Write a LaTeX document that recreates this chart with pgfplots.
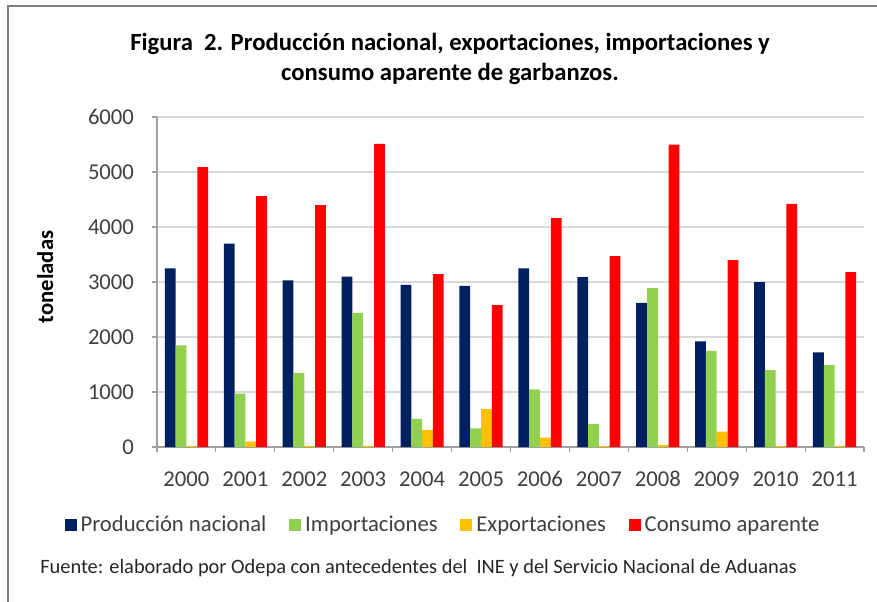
\documentclass[border=0pt]{standalone}
\usepackage{fontspec}
\setmainfont{Carlito}
\usepackage{pgfplots}
\pgfplotsset{compat=1.18}
\definecolor{prod}{HTML}{002060}
\definecolor{imp}{HTML}{92D050}
\definecolor{exp}{HTML}{FFC000}
\definecolor{cons}{HTML}{FF0000}
\definecolor{txt}{HTML}{404040}
\definecolor{axisgray}{HTML}{A0A0A0}
\definecolor{gridgray}{HTML}{D9D9D9}
\begin{document}
\begin{tikzpicture}[x=0.75pt,y=0.75pt]
\useasboundingbox (0,0) rectangle (877,601);
\fill[white] (0,0) rectangle (877,601);
\draw[gray, line width=1.5pt] (8,-2) -- (8,595) -- (879,595);
\node[font=\bfseries\fontsize{18.5}{22.5}\selectfont, align=center] at (450,542) {Figura\ \ 2. Producción nacional, exportaciones, importaciones y\\consumo aparente de garbanzos.};
\begin{axis}[
  at={(117.75pt,115.5pt)}, anchor=south west,
  scale only axis, width=530.25pt, height=247.5pt,
  ybar=0pt, bar width=8.1pt,
  xmin=-0.5, xmax=11.5, ymin=0, ymax=6000,
  xtick={0,...,11},
  xticklabels={2000,2001,2002,2003,2004,2005,2006,2007,2008,2009,2010,2011},
  minor xtick={-0.5,0.5,...,11.5},
  ytick={0,1000,...,6000},
  major x tick style={draw=none},
  tick align=outside,
  major tick length=4pt, minor tick length=4pt,
  axis lines*=left,
  axis line style={axisgray, line width=0.8pt},
  tick style={axisgray, line width=0.8pt},
  ymajorgrids, grid style={gridgray, line width=0.8pt},
  ticklabel style={font=\fontsize{17}{20}\selectfont, text=txt},
  yticklabel style={xshift=-9.75pt},
  xticklabel style={yshift=-10.5pt, text height=11.5pt, text depth=0pt},
  /pgf/number format/assume math mode=true,
  /pgf/number format/1000 sep={},
  ylabel={toneladas},
  ylabel style={font=\bfseries\fontsize{17}{20}\selectfont, at={(axis description cs:-0.158,0.515)}, anchor=center},
  legend style={at={(axis description cs:0.406,-0.236)}, anchor=center, draw=none, fill=none,
    legend columns=4, font=\fontsize{17}{20}\selectfont, text=txt,
    nodes={inner xsep=3pt},
    /tikz/every even column/.append style={column sep=14pt}},
  legend image code/.code={\fill[#1] (0pt,-4.5pt) rectangle (9pt,4.5pt);},
  enlarge x limits=false,
]
\addplot[fill=prod, draw=none] coordinates {(0,3250) (1,3700) (2,3030) (3,3100) (4,2950) (5,2930) (6,3250) (7,3090) (8,2620) (9,1920) (10,3000) (11,1720)};
\addplot[fill=imp, draw=none] coordinates {(0,1850) (1,970) (2,1350) (3,2440) (4,510) (5,340) (6,1050) (7,420) (8,2890) (9,1750) (10,1400) (11,1490)};
\addplot[fill=exp, draw=none] coordinates {(0,20) (1,100) (2,20) (3,20) (4,310) (5,690) (6,170) (7,20) (8,40) (9,280) (10,20) (11,20)};
\addplot[fill=cons, draw=none] coordinates {(0,5090) (1,4560) (2,4400) (3,5510) (4,3145) (5,2580) (6,4160) (7,3470) (8,5500) (9,3400) (10,4420) (11,3180)};
\legend{Producción nacional, Importaciones, Exportaciones, Consumo aparente}
\end{axis}
\node[anchor=west, inner sep=0pt, font=\fontsize{15.3}{18}\selectfont, text=black!85] at (40,33) {Fuente: elaborado por Odepa con antecedentes del\ \ INE y del Servicio Nacional de Aduanas};
\end{tikzpicture}
\end{document}
